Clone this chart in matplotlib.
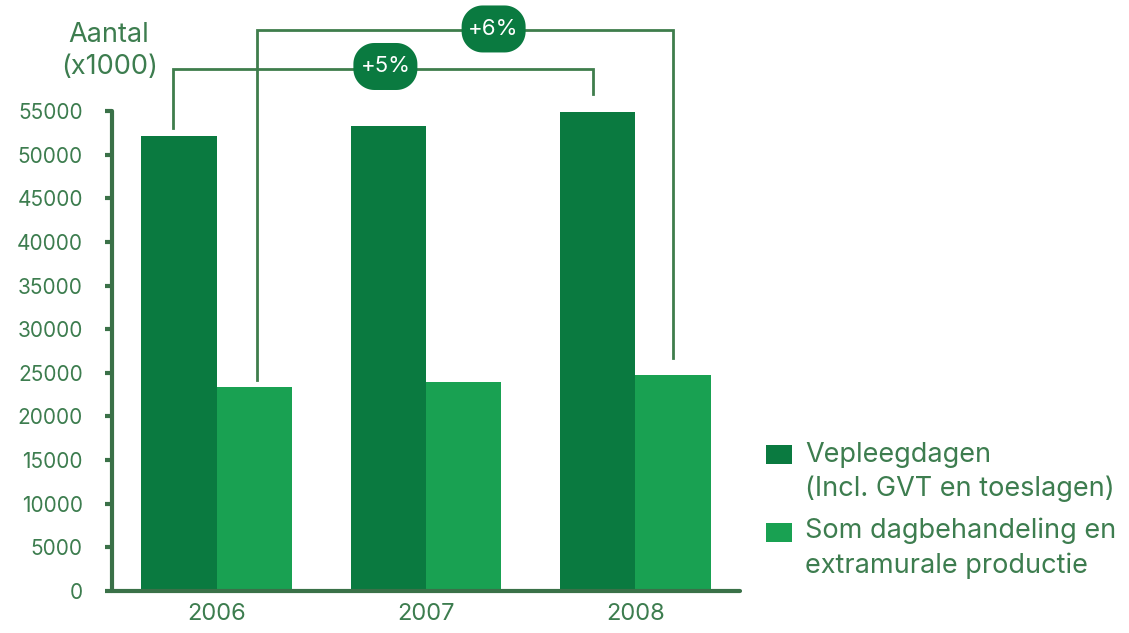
import numpy as np
import matplotlib.pyplot as plt
from matplotlib.patches import Rectangle, Polygon

plt.rcParams['font.family'] = ['Inter', 'DejaVu Sans']

# gegevens (x1000)
jaren = ['2006', '2007', '2008']
vepleegdagen = [52100, 53300, 54900]
dagbehandeling = [23400, 24000, 24800]
groei_labels = ['+5%', '+6%']

donker = '#0a7a40'
licht = '#19a152'
tekst = '#3d7d4f'
lijn = '#3f7d4c'
as_kleur = '#3a7148'

fig = plt.figure(figsize=(11.29, 6.33), dpi=100)
ax = fig.add_axes([112 / 1129, 1 - 591 / 633, 628 / 1129, 480 / 633])

x = np.arange(len(jaren))
breedte = 0.36
ax.bar(x - breedte / 2, vepleegdagen, breedte, color=donker, linewidth=0)
ax.bar(x + breedte / 2, dagbehandeling, breedte, color=licht, linewidth=0)

ax.set_xlim(-0.5, 2.5)
ax.set_ylim(0, 55000)
ax.set_yticks(np.arange(0, 55001, 5000))
ax.set_yticklabels([str(v) for v in range(0, 55001, 5000)])
ax.set_xticks(x)
ax.set_xticklabels(jaren)

for kant in ['top', 'right']:
    ax.spines[kant].set_visible(False)
for kant in ['left', 'bottom']:
    ax.spines[kant].set_color(as_kleur)
    ax.spines[kant].set_linewidth(3)
    ax.spines[kant].set_capstyle('round')

ax.tick_params(axis='y', colors=as_kleur, labelcolor=tekst, labelsize=15,
               length=5, width=3, pad=16, direction='out')
ax.tick_params(axis='x', length=0, labelcolor=tekst, labelsize=17, pad=9)
for t in ax.yaxis.get_ticklines():
    t.set_solid_capstyle('round')

fig.text(109 / 1129, 1 - 42 / 633, 'Aantal', color=tekst, fontsize=19.5,
         ha='center', va='baseline')
fig.text(110 / 1129, 1 - 74 / 633, '(x1000)', color=tekst, fontsize=19.5,
         ha='center', va='baseline')

# groei-haken tussen 2006 en 2008
xl = x[0] - breedte / 2 - 0.03
xr = x[2] - breedte / 2 - 0.02
ax.plot([xl, xl, xr, xr],
        [vepleegdagen[0] + 900, 59800, 59800, vepleegdagen[2] + 2000],
        color=lijn, lw=2, clip_on=False, solid_joinstyle='miter')
xl = x[0] + breedte / 2 + 0.015
xr = x[2] + breedte / 2
ax.plot([xl, xl, xr, xr],
        [dagbehandeling[0] + 800, 64300, 64300, dagbehandeling[2] + 1900],
        color=lijn, lw=2, clip_on=False, solid_joinstyle='miter')


def pil_omtrek(cx, cy, w, h, r):
    # afgeronde rechthoek met cirkelbogen, in pixels
    hoeken = [(cx + w / 2 - r, cy + h / 2 - r, 0), (cx - w / 2 + r, cy + h / 2 - r, 90),
              (cx - w / 2 + r, cy - h / 2 + r, 180), (cx + w / 2 - r, cy - h / 2 + r, 270)]
    pts = []
    for hx, hy, start in hoeken:
        a = np.radians(np.linspace(start, start + 90, 20))
        pts += list(zip(hx + r * np.cos(a), hy + r * np.sin(a)))
    return pts


# labels met groeipercentage
for lbl, pos in zip(groei_labels, [(0.806, 60100), (1.323, 64400)]):
    cx, cy = ax.transData.transform(pos)
    fig.add_artist(Polygon(pil_omtrek(cx, cy, 64, 47, 21), closed=True,
                           fc=donker, ec='none', transform=None))
    fig.text(cx / fig.bbox.width, cy / fig.bbox.height, lbl, color='white',
             fontsize=16, ha='center', va='center')

# legenda
for ytop, kleur in [(445, donker), (523, licht)]:
    fig.add_artist(Rectangle((766 / 1129, 1 - (ytop + 19) / 633), 26 / 1129, 19 / 633,
                             transform=fig.transFigure, color=kleur, lw=0))
regels = [('Vepleegdagen', 462), ('(Incl. GVT en toeslagen)', 496),
          ('Som dagbehandeling en', 538), ('extramurale productie', 573)]
for s, yb in regels:
    fig.text(805 / 1129, 1 - yb / 633, s, color=tekst, fontsize=19.5,
             ha='left', va='baseline')

fig.savefig('out.png', dpi=100)
